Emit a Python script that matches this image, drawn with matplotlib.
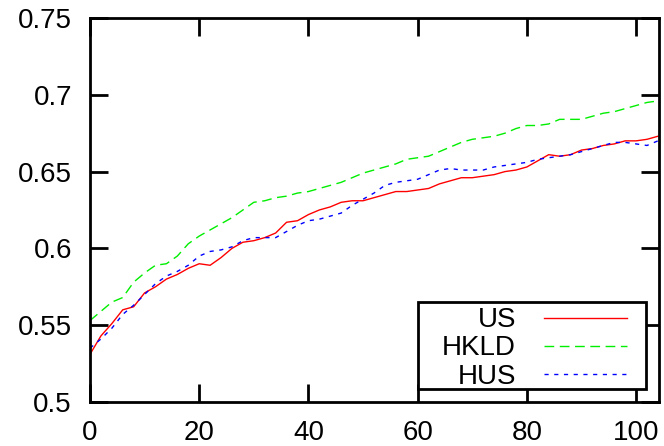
import matplotlib
matplotlib.use("Agg")
from matplotlib import pyplot as plt
from matplotlib.patches import Rectangle
import numpy as np

# x positions (every 2 iterations)
x = np.arange(0, 105, 2)

us = [0.531, 0.543, 0.551, 0.560, 0.562, 0.571, 0.575, 0.580, 0.583, 0.587,
      0.590, 0.589, 0.594, 0.600, 0.604, 0.605, 0.607, 0.610, 0.617, 0.618,
      0.622, 0.625, 0.627, 0.630, 0.631, 0.631, 0.633, 0.635, 0.637, 0.637,
      0.638, 0.639, 0.642, 0.644, 0.646, 0.646, 0.647, 0.648, 0.650, 0.651,
      0.653, 0.657, 0.661, 0.660, 0.661, 0.664, 0.665, 0.667, 0.668, 0.670,
      0.670, 0.671, 0.673]

hkld = [0.553, 0.559, 0.565, 0.568, 0.578, 0.584, 0.589, 0.590, 0.595, 0.603,
        0.608, 0.612, 0.616, 0.620, 0.625, 0.630, 0.631, 0.633, 0.634, 0.636,
        0.637, 0.639, 0.641, 0.643, 0.646, 0.649, 0.651, 0.653, 0.655, 0.658,
        0.659, 0.660, 0.663, 0.666, 0.669, 0.671, 0.672, 0.673, 0.675, 0.678,
        0.680, 0.680, 0.681, 0.684, 0.684, 0.684, 0.686, 0.688, 0.689, 0.691,
        0.693, 0.695, 0.696]

hus = [0.535, 0.541, 0.548, 0.557, 0.563, 0.570, 0.577, 0.582, 0.585, 0.589,
       0.595, 0.598, 0.599, 0.601, 0.605, 0.607, 0.607, 0.607, 0.611, 0.615,
       0.618, 0.619, 0.621, 0.623, 0.628, 0.632, 0.636, 0.641, 0.643, 0.644,
       0.645, 0.648, 0.651, 0.652, 0.651, 0.651, 0.651, 0.653, 0.654, 0.655,
       0.656, 0.658, 0.659, 0.660, 0.661, 0.663, 0.665, 0.667, 0.669, 0.669,
       0.668, 0.667, 0.670]

xticks = [0, 20, 40, 60, 80, 100]
yticks = [0.5, 0.55, 0.6, 0.65, 0.7, 0.75]
ytick_labels = ["0.5", "0.55", "0.6", "0.65", "0.7", "0.75"]

plt.rcParams["font.family"] = ["Liberation Sans", "DejaVu Sans"]

fig = plt.figure(figsize=(6.64, 4.46), dpi=100)
ax = fig.add_axes([0.1355, 0.0987, 0.857, 0.861])

ax.plot(x, us, color="#ff0000", lw=1.0, label="US")
ax.plot(x, hkld, color="#00ee00", lw=1.0, dashes=(7, 4), label="HKLD")
ax.plot(x, hus, color="#0000ff", lw=1.0, dashes=(3, 4), label="HUS")

ax.set_xlim(0, 104.2)
ax.set_ylim(0.5, 0.75)
ax.set_xticks(xticks)
ax.set_yticks(yticks)
ax.set_yticklabels(ytick_labels)
ax.tick_params(direction="in", length=13, width=2, top=True, right=True,
               labelsize=20, pad=13)
for s in ax.spines.values():
    s.set_linewidth(2)

# gnuplot style key: frame drawn separately, entries packed tight
ax.add_patch(Rectangle((0.5764, 0.0339), 0.4008, 0.2265, transform=ax.transAxes,
                       fill=True, facecolor="white", edgecolor="black",
                       lw=2, zorder=4))
leg = ax.legend(loc="lower right", bbox_to_anchor=(0.9438, 0.032),
                markerfirst=False, fontsize=20, handlelength=3.0,
                handletextpad=1.0, labelspacing=0.08, borderpad=0,
                borderaxespad=0, frameon=False)
leg.set_zorder(5)
for t in leg.get_texts():
    t.set_ha("right")

fig.savefig("out.png", dpi=100)
